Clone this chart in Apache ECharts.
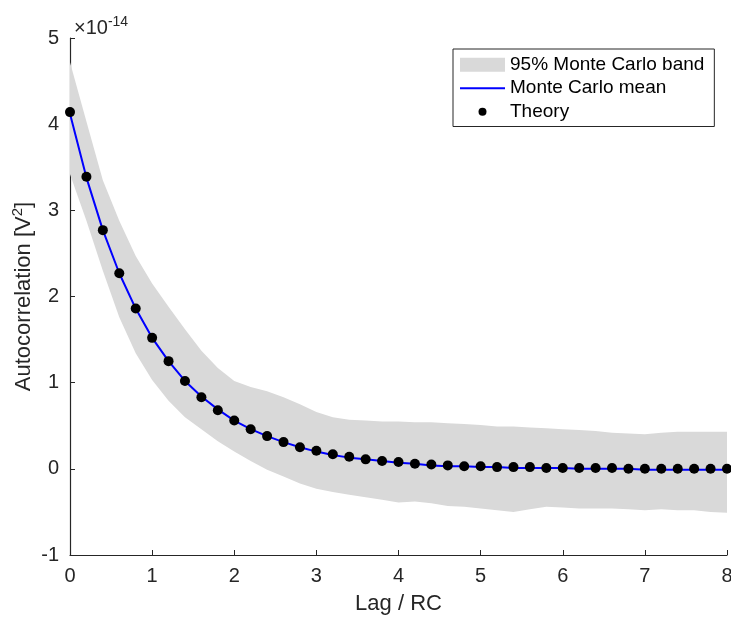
<!DOCTYPE html>
<html>
<head>
<meta charset="utf-8">
<script src="https://cdn.jsdelivr.net/npm/echarts@6/dist/echarts.min.js"></script>
<style>
html, body { margin: 0; padding: 0; background: #fff; }
#chart { width: 731px; height: 619px; }
</style>
</head>
<body>
<div id="chart"></div>
<script>
// lag / RC sample points (0 .. 8, step 0.2)
const lags = [0, 0.2, 0.4, 0.6, 0.8, 1, 1.2, 1.4, 1.6, 1.8, 2, 2.2, 2.4, 2.6, 2.8, 3, 3.2, 3.4, 3.6, 3.8,
  4, 4.2, 4.4, 4.6, 4.8, 5, 5.2, 5.4, 5.6, 5.8, 6, 6.2, 6.4, 6.6, 6.8, 7, 7.2, 7.4, 7.6, 7.8, 8]

// values in units of 1e-14 V^2
const theory = [4.14, 3.39, 2.77, 2.27, 1.86, 1.52, 1.25, 1.02, 0.83, 0.68, 0.56, 0.46, 0.38, 0.31, 0.25,
  0.21, 0.17, 0.14, 0.11, 0.09, 0.08, 0.06, 0.05, 0.04, 0.03, 0.03, 0.02, 0.02, 0.02, 0.01,
  0.01, 0.01, 0.01, 0.01, 0.0, 0.0, 0.0, 0.0, 0.0, 0.0, 0.0]
const mcMean = [4.12, 3.38, 2.77, 2.27, 1.86, 1.52, 1.25, 1.02, 0.84, 0.69, 0.56, 0.46, 0.38, 0.31, 0.25,
  0.2, 0.16, 0.13, 0.11, 0.09, 0.07, 0.06, 0.04, 0.03, 0.03, 0.02, 0.02, 0.01, 0.01, 0.01,
  0.01, 0.0, 0.0, 0.0, 0.0, -0.01, -0.01, -0.01, -0.01, -0.01, -0.01]
const bandUpper = [4.72, 4.03, 3.35, 2.88, 2.47, 2.15, 1.88, 1.62, 1.37, 1.17, 1.02, 0.95, 0.9, 0.83, 0.75,
  0.66, 0.6, 0.57, 0.56, 0.55, 0.55, 0.54, 0.54, 0.53, 0.52, 0.51, 0.49, 0.49, 0.48, 0.47,
  0.46, 0.45, 0.44, 0.42, 0.41, 0.4, 0.42, 0.43, 0.43, 0.43, 0.43]
const bandLower = [3.42, 2.88, 2.3, 1.76, 1.34, 1.03, 0.79, 0.6, 0.46, 0.32, 0.2, 0.09, -0.01, -0.09, -0.17,
  -0.23, -0.27, -0.3, -0.33, -0.36, -0.39, -0.38, -0.4, -0.43, -0.44, -0.46, -0.48, -0.5, -0.47, -0.44,
  -0.45, -0.46, -0.46, -0.46, -0.47, -0.48, -0.47, -0.48, -0.48, -0.5, -0.51]

const xTicks = { min: 0, max: 8, step: 1 }
const yTicks = { min: -1, max: 5, step: 1 }

const FONT = "'Liberation Sans', Arial, sans-serif"
const INK = '#262626'
const BAND = '#d9d9d9'

const chart = echarts.init(document.getElementById('chart'), null, { renderer: 'canvas' })

const pairs = (ys) => lags.map((x, i) => [x, ys[i]])

// the whole band is drawn as one polygon, upper edge then lower edge backwards
function renderBand(params, api) {
  if (params.dataIndex !== 0) return null
  const pts = []
  for (let i = 0; i < lags.length; i++) pts.push(api.coord([lags[i], bandUpper[i]]))
  for (let i = lags.length - 1; i >= 0; i--) pts.push(api.coord([lags[i], bandLower[i]]))
  return { type: 'polygon', shape: { points: pts }, style: { fill: BAND } }
}

const supStyle = { fontFamily: FONT, fontSize: 14, color: INK, verticalAlign: 'top', padding: [0, 0, 12, 0] }

chart.setOption({
  animation: false,
  backgroundColor: '#fff',
  textStyle: { fontFamily: FONT },
  title: {
    text: '×10{sup|-14}',
    left: 69,
    top: 10,
    textStyle: {
      fontFamily: FONT, fontSize: 20, fontWeight: 'normal', color: INK,
      rich: { sup: supStyle }
    }
  },
  grid: { left: 70, right: 4, top: 38, bottom: 64, containLabel: false, outerBoundsMode: 'none' },
  legend: {
    orient: 'vertical',
    left: 453,
    top: 49,
    padding: [4, 10, 3, 7],
    itemGap: 0,
    itemWidth: 45,
    itemHeight: 14,
    borderColor: INK,
    borderWidth: 1,
    borderRadius: 0,
    backgroundColor: '#fff',
    textStyle: { fontFamily: FONT, fontSize: 19, color: '#000', lineHeight: 23.5 },
    data: [
      { name: '95% Monte Carlo band', icon: 'rect', itemStyle: { color: BAND } },
      { name: 'Monte Carlo mean', icon: 'path://M0,6 L45,6 L45,8 L0,8 Z', itemStyle: { color: '#0000ff' } },
      { name: 'Theory', icon: 'path://M0,0 M45,14 M18.5,7 A4,4 0 1,0 26.5,7 A4,4 0 1,0 18.5,7 Z', itemStyle: { color: '#000' } }
    ]
  },
  xAxis: {
    type: 'value',
    min: xTicks.min,
    max: xTicks.max,
    interval: xTicks.step,
    name: 'Lag / RC',
    nameLocation: 'middle',
    nameGap: 38,
    nameMoveOverlap: false,
    nameTextStyle: { fontFamily: FONT, fontSize: 22, color: INK },
    axisLine: { show: true, onZero: false, lineStyle: { color: INK, width: 1.2 } },
    axisTick: { show: true, inside: true, length: 5, lineStyle: { color: INK } },
    axisLabel: { fontFamily: FONT, fontSize: 20, color: INK, margin: 11 },
    splitLine: { show: false }
  },
  yAxis: {
    type: 'value',
    min: yTicks.min,
    max: yTicks.max,
    interval: yTicks.step,
    name: 'Autocorrelation [V{sup|2}]',
    nameLocation: 'middle',
    nameGap: 33,
    nameMoveOverlap: false,
    nameTextStyle: {
      fontFamily: FONT, fontSize: 22, color: INK,
      rich: { sup: { fontFamily: FONT, fontSize: 15, color: INK, verticalAlign: 'top', padding: [0, 0, 12, 0] } }
    },
    axisLine: { show: true, onZero: false, lineStyle: { color: INK, width: 1.2 } },
    axisTick: { show: true, inside: true, length: 5, lineStyle: { color: INK } },
    axisLabel: { fontFamily: FONT, fontSize: 20, color: INK, margin: 11 },
    splitLine: { show: false }
  },
  series: [
    {
      name: '95% Monte Carlo band',
      type: 'custom',
      renderItem: renderBand,
      data: lags.map((x, i) => [x, bandLower[i], bandUpper[i]]),
      encode: { x: 0, y: [1, 2] },
      itemStyle: { color: BAND },
      silent: true,
      z: 1
    },
    {
      name: 'Monte Carlo mean',
      type: 'line',
      data: pairs(mcMean),
      symbol: 'none',
      itemStyle: { color: '#0000ff' },
      lineStyle: { color: '#0000ff', width: 2 },
      z: 3
    },
    {
      name: 'Theory',
      type: 'scatter',
      data: pairs(theory),
      symbol: 'circle',
      symbolSize: 10,
      itemStyle: { color: '#000', opacity: 1 },
      z: 4
    }
  ]
})
</script>
</body>
</html>
